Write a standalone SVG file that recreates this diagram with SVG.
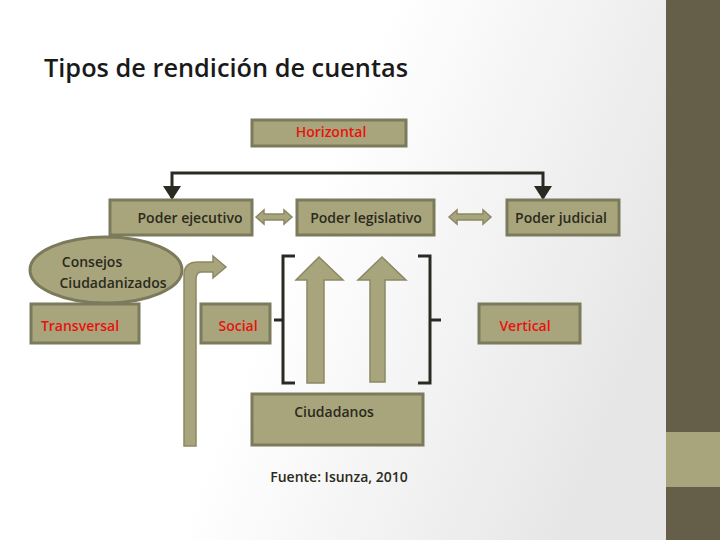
<svg xmlns="http://www.w3.org/2000/svg" width="720" height="540" viewBox="0 0 720 540">
<defs>
<linearGradient id="bg" x1="0" y1="0" x2="1" y2="0.3"><stop offset="0.5" stop-color="#ffffff"/><stop offset="1" stop-color="#e6e6e6"/></linearGradient>
<style>
.box{fill:#a8a57c;stroke:#7b7a5c;stroke-width:3}
.t{font-family:"Open Sans","DejaVu Sans",sans-serif;font-size:14px;font-weight:600;fill:#2b2a1c;text-anchor:middle}
.r{fill:#e8120c}
.arr{fill:#a8a57c;stroke:#8a8866;stroke-width:1.5}
.br{fill:none;stroke:#2b2a22;stroke-width:3}
</style>
</defs>
<rect width="720" height="540" fill="url(#bg)"/>
<rect x="666" y="0" width="54" height="540" fill="#655e48"/>
<rect x="666" y="432" width="54" height="55" fill="#a8a57c"/>
<text x="44" y="77" font-family="'Open Sans',sans-serif" font-weight="600" font-size="25" fill="#1a1a1a" textLength="364" lengthAdjust="spacingAndGlyphs">Tipos de rendición de cuentas</text>
<g id="connectors">
<path d="M172,198V173H543V198" class="br"/>
<path d="M163,186L172,200L181,186z M534,186L543,200L552,186z" fill="#2b2a22"/>
<path class="arr" d="M256,217l8,-7v4h20v-4l8,7l-8,7v-4h-20v4z"/>
<path class="arr" d="M449,217l8,-7v4h26v-4l8,7l-8,7v-4h-26v4z"/>
<path class="arr" d="M184,446V275Q184,262 198,262H213V256L226,267L213,278V272H201Q196,272 196,280V446z"/>
<path class="br" d="M295,256H283V383H295M283,320H274"/>
<path class="br" d="M418,256H430V383H418M430,320H441"/>
<path class="arr" d="M307,383V280H296L319,257L343,280H324V383z"/>
<path class="arr" d="M370,382V280H358L382,257L406,280H385V382z"/>
</g>
<g id="horizontal"><rect class="box" x="252" y="120" width="154" height="26"/><text class="t r" x="331" y="137">Horizontal</text></g>
<g id="ejecutivo"><rect class="box" x="110" y="200" width="142" height="35"/><text class="t" x="190" y="223">Poder ejecutivo</text></g>
<g id="legislativo"><rect class="box" x="297" y="200" width="137" height="35"/><text class="t" x="366" y="223">Poder legislativo</text></g>
<g id="judicial"><rect class="box" x="507" y="200" width="112" height="35"/><text class="t" x="561" y="223">Poder judicial</text></g>
<g id="consejos"><ellipse class="box" cx="106" cy="270" rx="76" ry="33"/><text class="t" x="92" y="267">Consejos</text><text class="t" x="113" y="288">Ciudadanizados</text></g>
<g id="transversal"><rect class="box" x="31" y="304" width="108" height="39"/><text class="t r" x="80" y="331">Transversal</text></g>
<g id="social"><rect class="box" x="201" y="304" width="69" height="39"/><text class="t r" x="238" y="331">Social</text></g>
<g id="vertical"><rect class="box" x="479" y="304" width="101" height="39"/><text class="t r" x="525" y="331">Vertical</text></g>
<g id="ciudadanos"><rect class="box" x="252" y="394" width="171" height="51"/><text class="t" x="334" y="417">Ciudadanos</text></g>
<text class="t" x="339" y="482">Fuente: Isunza, 2010</text>
</svg>
